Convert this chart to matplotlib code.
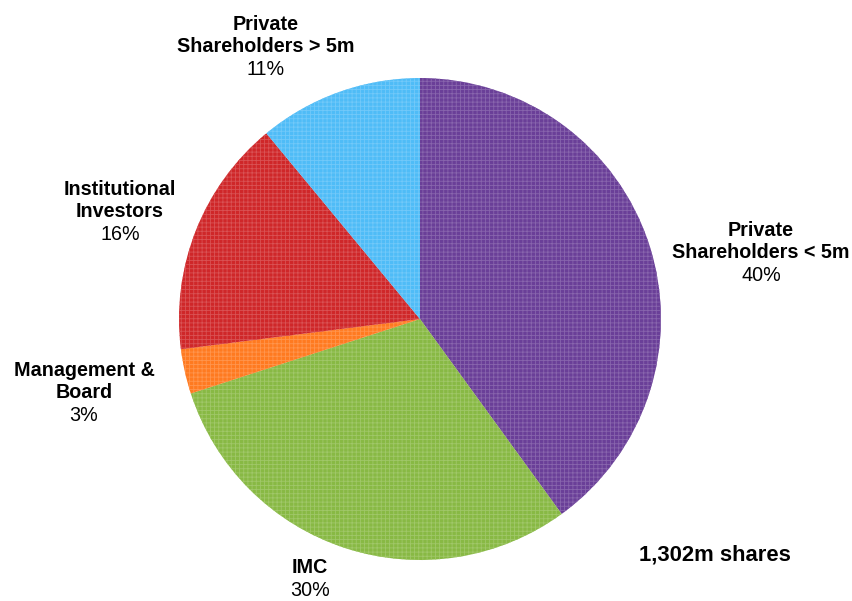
import matplotlib.pyplot as plt
import matplotlib.colors as mcolors

plt.rcParams['font.family'] = ['Liberation Sans', 'DejaVu Sans']
plt.rcParams['hatch.linewidth'] = 0.6

# Dados
grupos = ['Private\nShareholders < 5m', 'IMC', 'Management &\nBoard',
          'Institutional\nInvestors', 'Private\nShareholders > 5m']
percent = [40, 30, 3, 16, 11]
cores = ['#6a3f98', '#88b944', '#ff7a20', '#cf2729', '#4fbcf7']
total_txt = '1,302m shares'

# posições dos rótulos (pixels: centro x, linha de base do nome)
pos_rotulos = [(761, 258), (310, 573), (84, 398), (120, 217), (266, 52)]

fig = plt.figure(figsize=(8.52, 6.01), dpi=100)
cx, cy, r = 420, 319, 241
W, H = 852, 601
ax = fig.add_axes([(cx - r) / W, (H - cy - r) / H, 2 * r / W, 2 * r / H])

def clarear(c, f=0.2):
    rgb = mcolors.to_rgb(c)
    return tuple(v + (1 - v) * f for v in rgb)

wedges, _ = ax.pie(percent, colors=cores, startangle=90, counterclock=False,
                   radius=1, wedgeprops=dict(linewidth=0))
for w, c in zip(wedges, cores):
    w.set_hatch('++++')
    w.set_edgecolor(clarear(c))
    w.set_linewidth(0)

ax.set_xlim(-1, 1)
ax.set_ylim(-1, 1)
ax.axis('off')

def px2data(px, py):
    return (px - cx) / r, (cy - py) / r

for nome, p, (px, py) in zip(grupos, percent, pos_rotulos):
    x, y = px2data(px, py)
    ax.text(x, y, nome, ha='center', va='baseline', fontsize=14.2,
            fontweight='bold', linespacing=1.2, clip_on=False)
    ax.annotate(f'{p}%', (x, y), xytext=(0, -16.3), textcoords='offset points',
                ha='center', va='baseline', fontsize=14.2, annotation_clip=False)

tx, ty = px2data(715, 555)
ax.text(tx, ty, total_txt, ha='center', va='center', fontsize=15.8,
        fontweight='bold', clip_on=False)

plt.savefig('out.png', dpi=100)
